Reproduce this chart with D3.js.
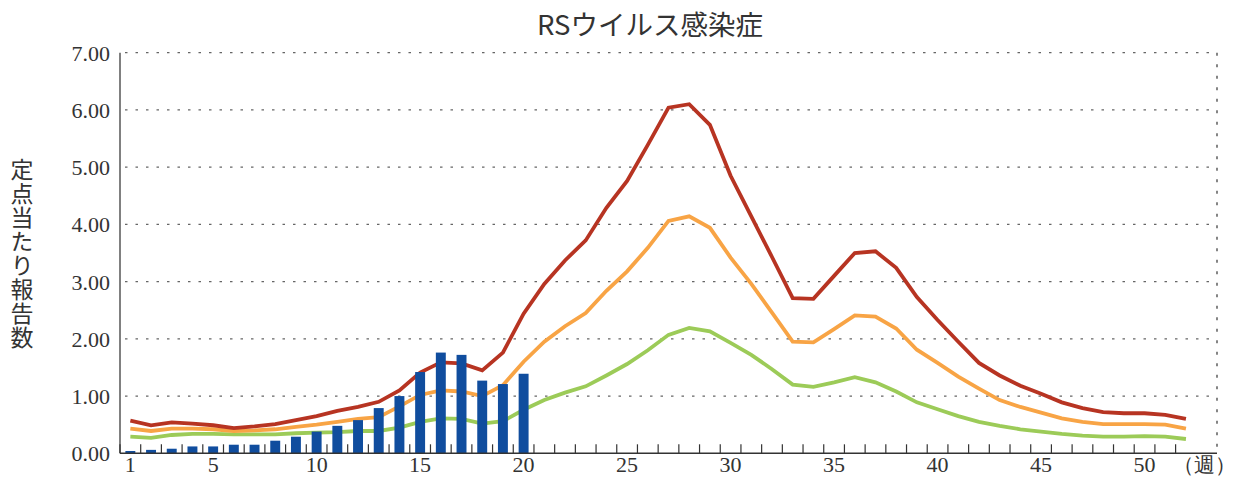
<!DOCTYPE html>
<html>
<head>
<meta charset="utf-8">
<script src="https://cdn.jsdelivr.net/npm/d3@7"></script>
<style>
  body { margin: 0; background: #fff; }
  svg { display: block; }
</style>
</head>
<body>
<svg width="1237" height="477"></svg>
<script>
// 週ごとの定点当たり報告数
let weeks = d3.range(1, 53);
let tickWeeks = [1, 5, 10, 15, 20, 25, 30, 35, 40, 45, 50];
let yTicks = [0, 1, 2, 3, 4, 5, 6, 7];

let current = [0.04, 0.06, 0.08, 0.12, 0.12, 0.15, 0.15, 0.22, 0.29, 0.38,
    0.48, 0.58, 0.79, 1.00, 1.42, 1.76, 1.72, 1.27, 1.21, 1.39];

let upper = [0.57, 0.49, 0.54, 0.52, 0.49, 0.44, 0.47, 0.51, 0.58, 0.65,
    0.74, 0.81, 0.90, 1.10, 1.41, 1.59, 1.57, 1.45, 1.76, 2.44,
    2.96, 3.37, 3.72, 4.29, 4.76, 5.39, 6.04, 6.10, 5.74, 4.85,
    4.14, 3.43, 2.71, 2.70, 3.10, 3.50, 3.53, 3.24, 2.73, 2.33,
    1.95, 1.58, 1.36, 1.18, 1.04, 0.89, 0.79, 0.72, 0.70, 0.70,
    0.67, 0.60];

let average = [0.43, 0.39, 0.43, 0.43, 0.42, 0.39, 0.40, 0.42, 0.46, 0.50,
    0.55, 0.60, 0.63, 0.82, 1.02, 1.10, 1.08, 1.00, 1.19, 1.60,
    1.95, 2.22, 2.45, 2.84, 3.18, 3.59, 4.06, 4.14, 3.94, 3.42,
    2.96, 2.46, 1.95, 1.94, 2.17, 2.41, 2.39, 2.18, 1.81, 1.58,
    1.34, 1.13, 0.93, 0.81, 0.71, 0.61, 0.55, 0.51, 0.51, 0.51,
    0.50, 0.43];

let lower = [0.29, 0.27, 0.32, 0.34, 0.34, 0.33, 0.33, 0.33, 0.35, 0.36,
    0.37, 0.39, 0.39, 0.45, 0.55, 0.61, 0.60, 0.52, 0.56, 0.76,
    0.93, 1.06, 1.17, 1.36, 1.56, 1.80, 2.07, 2.19, 2.13, 1.93,
    1.72, 1.47, 1.20, 1.16, 1.24, 1.33, 1.24, 1.08, 0.89, 0.77,
    0.65, 0.55, 0.48, 0.42, 0.38, 0.34, 0.31, 0.29, 0.29, 0.30,
    0.29, 0.25];

let svg = d3.select("svg"),
    plotLeft = 120, plotRight = 1217, plotTop = 52.7, plotBottom = 453.3;

let x = d3.scaleBand().domain(d3.range(1, 54)).range([plotLeft, plotRight])
    .paddingInner(0.52).paddingOuter(0.26);
let step = x.step();
let y = d3.scaleLinear().domain([0, 7]).range([plotBottom, plotTop]);
let cx = function(w) { return x(w) + x.bandwidth() / 2; };

let serif = "'Liberation Serif', 'DejaVu Serif', serif";
let jp = "'Noto Sans CJK JP', 'Noto Sans', sans-serif";

// 横の点線
svg.append("g").selectAll("line")
    .data(yTicks.filter(function(d) { return d > 0; }))
    .enter().append("line")
    .attr("x1", plotLeft + 5).attr("x2", plotRight)
    .attr("y1", function(d) { return y(d); })
    .attr("y2", function(d) { return y(d); })
    .attr("stroke", "#666")
    .attr("stroke-width", 1.3)
    .attr("stroke-dasharray", "2.5,8");

// 右の点線
svg.append("line")
    .attr("x1", plotRight).attr("x2", plotRight)
    .attr("y1", plotTop).attr("y2", plotBottom)
    .attr("stroke", "#444")
    .attr("stroke-width", 1.3)
    .attr("stroke-dasharray", "3,8.5");

// 左軸
svg.append("line")
    .attr("x1", plotLeft).attr("x2", plotLeft)
    .attr("y1", plotTop).attr("y2", plotBottom)
    .attr("stroke", "#808080").attr("stroke-width", 2);

svg.append("g").selectAll("text")
    .data(yTicks)
    .enter().append("text")
    .attr("x", 110)
    .attr("y", function(d) { return y(d); })
    .attr("dy", "0.36em")
    .attr("text-anchor", "end")
    .style("font", "22px " + serif)
    .attr("fill", "#333")
    .text(function(d) { return d3.format(".2f")(d); });

// 折れ線
let line = d3.line()
    .x(function(d, i) { return cx(weeks[i]); })
    .y(function(d) { return y(d); });

let series = [
    {id: "lower", values: lower, color: "#9ccb58"},
    {id: "average", values: average, color: "#f8a445"},
    {id: "upper", values: upper, color: "#b73422"}
];

svg.append("g").selectAll("path")
    .data(series)
    .enter().append("path")
    .attr("d", function(d) { return line(d.values); })
    .attr("fill", "none")
    .attr("stroke", function(d) { return d.color; })
    .attr("stroke-width", 3.8)
    .attr("stroke-linejoin", "miter");

// 棒グラフ
svg.append("g").selectAll("rect")
    .data(current)
    .enter().append("rect")
    .attr("x", function(d, i) { return x(weeks[i]); })
    .attr("width", x.bandwidth())
    .attr("y", function(d) { return y(d); })
    .attr("height", function(d) { return y(0) - y(d); })
    .attr("fill", "#104d9e");

// 下軸
svg.append("line")
    .attr("x1", plotLeft).attr("x2", plotRight)
    .attr("y1", plotBottom).attr("y2", plotBottom)
    .attr("stroke", "#333").attr("stroke-width", 1.5);

svg.append("g").selectAll("line")
    .data(d3.range(1, 53))
    .enter().append("line")
    .attr("x1", function(d) { return x(d) - (step - x.bandwidth()) / 2; })
    .attr("x2", function(d) { return x(d) - (step - x.bandwidth()) / 2; })
    .attr("y1", plotBottom).attr("y2", plotBottom - 9)
    .attr("stroke", "#333").attr("stroke-width", 1.2);

svg.append("g").selectAll("text")
    .data(tickWeeks)
    .enter().append("text")
    .attr("x", function(d) { return cx(d); })
    .attr("y", 472)
    .attr("text-anchor", "middle")
    .style("font", "22px " + serif)
    .attr("fill", "#333")
    .text(function(d) { return d; });

svg.append("text")
    .attr("x", 1236)
    .attr("y", 472)
    .attr("text-anchor", "end")
    .style("font", "21px " + serif)
    .attr("fill", "#333")
    .text("（週）");

// タイトル
svg.append("text")
    .attr("x", 650)
    .attr("y", 35)
    .attr("text-anchor", "middle")
    .style("font", "27.5px " + jp)
    .attr("fill", "#333")
    .text("RSウイルス感染症");

// 縦軸ラベル
svg.append("text")
    .attr("x", 22)
    .attr("y", 254)
    .attr("text-anchor", "middle")
    .style("writing-mode", "vertical-rl")
    .style("text-orientation", "upright")
    .style("font", "23px " + jp)
    .style("letter-spacing", "1px")
    .attr("fill", "#333")
    .text("定点当たり報告数");
</script>
</body>
</html>
